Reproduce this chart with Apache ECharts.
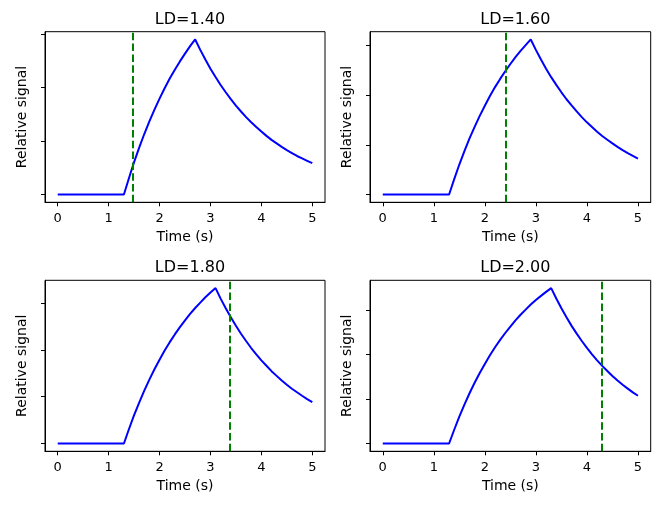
<!DOCTYPE html>
<html>
<head>
<meta charset="utf-8">
<script src="https://cdn.jsdelivr.net/npm/echarts@6/dist/echarts.min.js"></script>
<style>
  html, body { margin: 0; padding: 0; background: #fff; }
  #chart { width: 660px; height: 505px; }
</style>
</head>
<body>
<div id="chart"></div>
<script>
// sample times (s), shared by all panels
var times = [0, 1.3, 1.4, 1.5, 1.6, 1.7, 1.8, 1.9, 2.0, 2.1, 2.2, 2.3, 2.4, 2.5, 2.6, 2.7, 2.8, 2.9, 3.0,
  3.1, 3.2, 3.3, 3.4, 3.5, 3.6, 3.7, 3.8, 3.9, 4.0, 4.1, 4.2, 4.3, 4.4, 4.5, 4.6, 4.7, 4.8, 4.9, 5.0];

// relative signal
var signal140 = [0, 0, 0.062, 0.121, 0.175, 0.226, 0.273, 0.317, 0.358, 0.397, 0.433, 0.466, 0.497, 0.526, 0.554, 0.579,
  0.540, 0.504, 0.470, 0.439, 0.409, 0.382, 0.356, 0.332, 0.310, 0.289, 0.270, 0.252, 0.235, 0.219, 0.204, 0.191,
  0.178, 0.166, 0.155, 0.144, 0.135, 0.126, 0.117];
var signal160 = [0, 0, 0.062, 0.121, 0.175, 0.226, 0.273, 0.317, 0.358, 0.397, 0.433, 0.466, 0.497, 0.526, 0.554, 0.579,
  0.602, 0.625, 0.583, 0.544, 0.507, 0.473, 0.442, 0.412, 0.384, 0.359, 0.335, 0.312, 0.291, 0.272, 0.253, 0.236,
  0.221, 0.206, 0.192, 0.179, 0.167, 0.156, 0.145];
var signal180 = [0, 0, 0.062, 0.121, 0.175, 0.226, 0.273, 0.317, 0.358, 0.397, 0.433, 0.466, 0.497, 0.526, 0.554, 0.579,
  0.602, 0.625, 0.645, 0.664, 0.619, 0.578, 0.539, 0.503, 0.469, 0.438, 0.408, 0.381, 0.355, 0.332, 0.309, 0.289,
  0.269, 0.251, 0.234, 0.219, 0.204, 0.190, 0.177];
var signal200 = [0, 0, 0.062, 0.121, 0.175, 0.226, 0.273, 0.317, 0.358, 0.397, 0.433, 0.466, 0.497, 0.526, 0.554, 0.579,
  0.602, 0.625, 0.645, 0.664, 0.682, 0.699, 0.652, 0.608, 0.568, 0.529, 0.494, 0.461, 0.430, 0.401, 0.374, 0.349,
  0.326, 0.304, 0.283, 0.264, 0.247, 0.230, 0.215];

var titles = ['LD=1.40', 'LD=1.60', 'LD=1.80', 'LD=2.00'];
var markerTimes = [1.48, 2.41, 3.37, 4.30];   // green dashed lines
var xTicks = [0, 1, 2, 3, 4, 5];
var yTicks = [0, 0.2, 0.4, 0.6];              // unlabelled ticks

(function() {
  var chart = echarts.init(document.getElementById('chart'), null, { renderer: 'canvas' });
  var font = 'DejaVu Sans';
  var signals = [signal140, signal160, signal180, signal200];

  // panel boxes: left, top, width, height
  var boxes = [
    [45, 31.7, 280, 170.6],
    [370, 31.7, 280.7, 170.6],
    [45, 280.3, 280, 171],
    [370, 280.3, 280.7, 171]
  ];

  var grids = [], xAxes = [], yAxes = [], series = [], titleOpts = [];

  for (var i = 0; i < 4; i++) {
    var b = boxes[i];
    grids.push({
      left: b[0], top: b[1], width: b[2], height: b[3],
      show: true, borderColor: '#000', borderWidth: 1, backgroundColor: 'transparent'
    });
    titleOpts.push({
      text: titles[i],
      left: b[0] + b[2] / 2,
      top: b[1] - 25,
      textAlign: 'center',
      textStyle: { fontFamily: font, fontSize: 16, fontWeight: 'normal', color: '#000' }
    });
    xAxes.push({
      type: 'value', gridIndex: i, min: -0.25, max: 5.25,
      name: 'Time (s)', nameLocation: 'middle', nameGap: 28,
      nameTextStyle: { fontFamily: font, fontSize: 14, color: '#000' },
      axisLine: { show: true, onZero: false, lineStyle: { color: '#000', width: 1 } },
      axisTick: { show: true, length: 4, customValues: xTicks, lineStyle: { color: '#000' } },
      axisLabel: { show: true, customValues: xTicks, margin: 10, fontFamily: font, fontSize: 13, color: '#000' },
      splitLine: { show: false }
    });
    yAxes.push({
      type: 'value', gridIndex: i,
      min: function(v) { return v.min - 0.05 * (v.max - v.min); },
      max: function(v) { return v.max + 0.05 * (v.max - v.min); },
      name: 'Relative signal', nameLocation: 'middle', nameGap: 16,
      nameTextStyle: { fontFamily: font, fontSize: 14, color: '#000' },
      axisLine: { show: true, onZero: false, lineStyle: { color: '#000', width: 1 } },
      axisTick: { show: true, length: 4, customValues: yTicks, lineStyle: { color: '#000' } },
      axisLabel: { show: false },
      splitLine: { show: false }
    });

    var pts = [];
    for (var k = 0; k < times.length; k++) pts.push([times[k], signals[i][k]]);

    series.push({
      type: 'line', xAxisIndex: i, yAxisIndex: i,
      data: pts, showSymbol: false, smooth: false,
      lineStyle: { color: '#0000ff', width: 2 },
      markLine: {
        silent: true, symbol: 'none', animation: false,
        label: { show: false },
        lineStyle: { color: '#008000', width: 2, type: [7.5, 3.3] },
        data: [{ xAxis: markerTimes[i] }]
      }
    });
  }

  chart.setOption({
    animation: false,
    backgroundColor: '#fff',
    title: titleOpts,
    grid: grids,
    xAxis: xAxes,
    yAxis: yAxes,
    series: series
  });

  window.addEventListener('resize', function() { chart.resize(); });
})();
</script>
</body>
</html>
